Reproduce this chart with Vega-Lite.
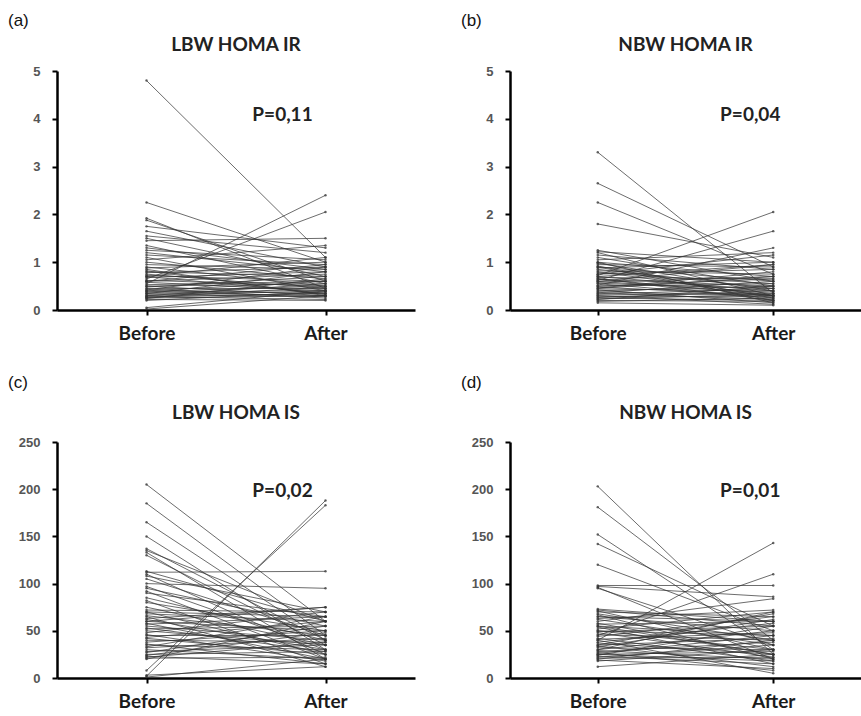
{
  "$schema": "https://vega.github.io/schema/vega-lite/v6.json",
  "padding": {"left": 8, "top": 12, "right": 0, "bottom": 0},
  "background": "white",
  "spacing": 31,
  "datasets": {
    "a": [
      {"id":1,"Before":4.8,"After":1.1},{"id":2,"Before":2.25,"After":1.0},{"id":3,"Before":1.92,"After":0.45},{"id":4,"Before":1.88,"After":0.6},
      {"id":5,"Before":1.75,"After":1.3},{"id":6,"Before":1.65,"After":0.9},{"id":7,"Before":1.55,"After":1.2},{"id":8,"Before":1.5,"After":0.7},
      {"id":9,"Before":1.45,"After":1.5},{"id":10,"Before":1.35,"After":0.55},{"id":11,"Before":1.25,"After":1.05},{"id":12,"Before":1.2,"After":0.8},
      {"id":13,"Before":1.15,"After":0.95},{"id":14,"Before":1.1,"After":0.4},{"id":15,"Before":1.05,"After":1.35},{"id":16,"Before":1.0,"After":0.65},
      {"id":17,"Before":0.95,"After":0.85},{"id":18,"Before":0.9,"After":0.5},{"id":19,"Before":0.88,"After":1.0},{"id":20,"Before":0.85,"After":0.3},
      {"id":21,"Before":0.8,"After":0.7},{"id":22,"Before":0.78,"After":0.9},{"id":23,"Before":0.75,"After":0.45},{"id":24,"Before":0.72,"After":0.6},
      {"id":25,"Before":0.7,"After":0.35},{"id":26,"Before":0.68,"After":0.8},{"id":27,"Before":0.65,"After":2.05},{"id":28,"Before":0.62,"After":0.5},
      {"id":29,"Before":0.6,"After":0.75},{"id":30,"Before":0.58,"After":0.4},{"id":31,"Before":0.55,"After":2.4},{"id":32,"Before":0.53,"After":0.6},
      {"id":33,"Before":0.5,"After":0.3},{"id":34,"Before":0.5,"After":0.55},{"id":35,"Before":0.48,"After":0.7},{"id":36,"Before":0.45,"After":0.45},
      {"id":37,"Before":0.44,"After":0.25},{"id":38,"Before":0.42,"After":0.9},{"id":39,"Before":0.4,"After":0.35},{"id":40,"Before":0.4,"After":0.6},
      {"id":41,"Before":0.38,"After":0.5},{"id":42,"Before":0.36,"After":0.3},{"id":43,"Before":0.35,"After":0.42},{"id":44,"Before":0.34,"After":0.8},
      {"id":45,"Before":0.32,"After":0.28},{"id":46,"Before":0.3,"After":0.4},{"id":47,"Before":0.3,"After":0.55},{"id":48,"Before":0.28,"After":0.22},
      {"id":49,"Before":0.27,"After":0.35},{"id":50,"Before":0.26,"After":0.48},{"id":51,"Before":0.25,"After":0.3},{"id":52,"Before":0.24,"After":0.65},
      {"id":53,"Before":0.22,"After":0.2},{"id":54,"Before":0.2,"After":0.38},{"id":55,"Before":0.05,"After":0.4},{"id":56,"Before":0.02,"After":0.3},
      {"id":57,"Before":0.7,"After":1.1},{"id":58,"Before":0.6,"After":0.95},{"id":59,"Before":0.82,"After":0.32},{"id":60,"Before":1.3,"After":0.85}
    ],
    "b": [
      {"id":1,"Before":3.3,"After":0.35},{"id":2,"Before":2.65,"After":0.9},{"id":3,"Before":2.25,"After":0.75},{"id":4,"Before":1.8,"After":1.1},
      {"id":5,"Before":1.25,"After":0.6},{"id":6,"Before":1.22,"After":1.0},{"id":7,"Before":1.2,"After":0.3},{"id":8,"Before":1.15,"After":0.85},
      {"id":9,"Before":1.1,"After":0.5},{"id":10,"Before":1.05,"After":1.2},{"id":11,"Before":1.0,"After":0.7},{"id":12,"Before":0.98,"After":0.4},
      {"id":13,"Before":0.95,"After":0.9},{"id":14,"Before":0.92,"After":0.25},{"id":15,"Before":0.9,"After":0.6},{"id":16,"Before":0.88,"After":1.0},
      {"id":17,"Before":0.85,"After":0.45},{"id":18,"Before":0.82,"After":0.75},{"id":19,"Before":0.8,"After":0.3},{"id":20,"Before":0.78,"After":0.55},
      {"id":21,"Before":0.75,"After":0.85},{"id":22,"Before":0.72,"After":2.05},{"id":23,"Before":0.7,"After":0.4},{"id":24,"Before":0.68,"After":0.65},
      {"id":25,"Before":0.66,"After":0.2},{"id":26,"Before":0.64,"After":0.5},{"id":27,"Before":0.62,"After":1.65},{"id":28,"Before":0.6,"After":0.35},
      {"id":29,"Before":0.58,"After":0.7},{"id":30,"Before":0.56,"After":0.45},{"id":31,"Before":0.55,"After":0.25},{"id":32,"Before":0.52,"After":1.3},
      {"id":33,"Before":0.5,"After":0.55},{"id":34,"Before":0.48,"After":0.3},{"id":35,"Before":0.46,"After":0.8},{"id":36,"Before":0.44,"After":0.4},
      {"id":37,"Before":0.42,"After":0.15},{"id":38,"Before":0.4,"After":0.5},{"id":39,"Before":0.38,"After":0.3},{"id":40,"Before":0.36,"After":0.6},
      {"id":41,"Before":0.35,"After":0.22},{"id":42,"Before":0.33,"After":0.45},{"id":43,"Before":0.31,"After":0.35},{"id":44,"Before":0.3,"After":0.12},
      {"id":45,"Before":0.28,"After":0.28},{"id":46,"Before":0.26,"After":0.4},{"id":47,"Before":0.25,"After":0.2},{"id":48,"Before":0.23,"After":0.33},
      {"id":49,"Before":0.22,"After":0.5},{"id":50,"Before":0.2,"After":0.18},{"id":51,"Before":0.18,"After":0.25},{"id":52,"Before":0.15,"After":0.1},
      {"id":53,"Before":0.6,"After":0.95},{"id":54,"Before":0.75,"After":1.15},{"id":55,"Before":0.9,"After":0.2},{"id":56,"Before":0.5,"After":0.65},
      {"id":57,"Before":0.65,"After":0.3},{"id":58,"Before":0.7,"After":0.95},{"id":59,"Before":1.0,"After":0.15},{"id":60,"Before":0.45,"After":0.7}
    ],
    "c": [
      {"id":1,"Before":205,"After":60},{"id":2,"Before":185,"After":45},{"id":3,"Before":165,"After":40},{"id":4,"Before":150,"After":30},
      {"id":5,"Before":137,"After":40},{"id":6,"Before":135,"After":60},{"id":7,"Before":133,"After":20},{"id":8,"Before":130,"After":35},
      {"id":9,"Before":112,"After":113},{"id":10,"Before":113,"After":60},{"id":11,"Before":110,"After":25},{"id":12,"Before":108,"After":70},
      {"id":13,"Before":105,"After":45},{"id":14,"Before":100,"After":95},{"id":15,"Before":97,"After":30},{"id":16,"Before":95,"After":55},
      {"id":17,"Before":92,"After":20},{"id":18,"Before":90,"After":65},{"id":19,"Before":85,"After":40},{"id":20,"Before":82,"After":15},
      {"id":21,"Before":80,"After":50},{"id":22,"Before":75,"After":35},{"id":23,"Before":72,"After":70},{"id":24,"Before":70,"After":25},
      {"id":25,"Before":68,"After":60},{"id":26,"Before":66,"After":45},{"id":27,"Before":65,"After":12},{"id":28,"Before":63,"After":75},
      {"id":29,"Before":62,"After":30},{"id":30,"Before":60,"After":50},{"id":31,"Before":58,"After":20},{"id":32,"Before":57,"After":65},
      {"id":33,"Before":55,"After":40},{"id":34,"Before":53,"After":28},{"id":35,"Before":52,"After":55},{"id":36,"Before":50,"After":35},
      {"id":37,"Before":48,"After":70},{"id":38,"Before":46,"After":18},{"id":39,"Before":45,"After":45},{"id":40,"Before":43,"After":60},
      {"id":41,"Before":42,"After":25},{"id":42,"Before":40,"After":38},{"id":43,"Before":38,"After":50},{"id":44,"Before":36,"After":15},
      {"id":45,"Before":35,"After":30},{"id":46,"Before":33,"After":65},{"id":47,"Before":32,"After":42},{"id":48,"Before":30,"After":20},
      {"id":49,"Before":28,"After":35},{"id":50,"Before":27,"After":55},{"id":51,"Before":25,"After":28},{"id":52,"Before":24,"After":48},
      {"id":53,"Before":23,"After":15},{"id":54,"Before":22,"After":38},{"id":55,"Before":21,"After":22},{"id":56,"Before":20,"After":60},
      {"id":57,"Before":2,"After":188},{"id":58,"Before":8,"After":183},{"id":59,"Before":3,"After":12},{"id":60,"Before":1,"After":20},
      {"id":61,"Before":60,"After":75},{"id":62,"Before":70,"After":65}
    ],
    "d": [
      {"id":1,"Before":203,"After":25},{"id":2,"Before":181,"After":40},{"id":3,"Before":152,"After":30},{"id":4,"Before":142,"After":55},
      {"id":5,"Before":120,"After":50},{"id":6,"Before":98,"After":98},{"id":7,"Before":97,"After":86},{"id":8,"Before":96,"After":20},
      {"id":9,"Before":95,"After":35},{"id":10,"Before":73,"After":60},{"id":11,"Before":72,"After":55},{"id":12,"Before":71,"After":30},
      {"id":13,"Before":70,"After":65},{"id":14,"Before":68,"After":40},{"id":15,"Before":67,"After":20},{"id":16,"Before":65,"After":50},
      {"id":17,"Before":63,"After":72},{"id":18,"Before":62,"After":35},{"id":19,"Before":60,"After":84},{"id":20,"Before":58,"After":25},
      {"id":21,"Before":57,"After":60},{"id":22,"Before":55,"After":45},{"id":23,"Before":54,"After":15},{"id":24,"Before":52,"After":70},
      {"id":25,"Before":50,"After":30},{"id":26,"Before":49,"After":55},{"id":27,"Before":48,"After":22},{"id":28,"Before":46,"After":40},
      {"id":29,"Before":45,"After":110},{"id":30,"Before":44,"After":65},{"id":31,"Before":42,"After":18},{"id":32,"Before":41,"After":48},
      {"id":33,"Before":40,"After":143},{"id":34,"Before":38,"After":58},{"id":35,"Before":37,"After":25},{"id":36,"Before":35,"After":42},
      {"id":37,"Before":34,"After":12},{"id":38,"Before":33,"After":62},{"id":39,"Before":32,"After":30},{"id":40,"Before":30,"After":50},
      {"id":41,"Before":29,"After":20},{"id":42,"Before":28,"After":38},{"id":43,"Before":27,"After":8},{"id":44,"Before":26,"After":45},
      {"id":45,"Before":25,"After":28},{"id":46,"Before":24,"After":55},{"id":47,"Before":23,"After":15},{"id":48,"Before":22,"After":35},
      {"id":49,"Before":21,"After":22},{"id":50,"Before":20,"After":40},{"id":51,"Before":19,"After":10},{"id":52,"Before":18,"After":30},
      {"id":53,"Before":12,"After":25},{"id":54,"Before":30,"After":70},{"id":55,"Before":55,"After":25},{"id":56,"Before":65,"After":60},
      {"id":57,"Before":40,"After":5},{"id":58,"Before":25,"After":18},{"id":59,"Before":35,"After":68},{"id":60,"Before":50,"After":45}
    ]
  },
  "vconcat": [
    {
      "hconcat": [
        {
          "title": {"text": "(a)", "anchor": "start", "font": "Liberation Sans", "fontSize": 17, "fontWeight": "normal", "color": "#111", "offset": 6},
          "vconcat": [
            {
              "width": 358, "height": 239,
              "title": {"text": "LBW HOMA IR", "font": "Lato", "fontSize": 19, "fontWeight": "bold", "color": "#222", "offset": 10},
              "layer": [
                {"data": {"name": "a"}, "transform": [{"fold": ["Before", "After"], "as": ["t", "v"]}],
                 "mark": {"type": "line", "color": "#333", "strokeWidth": 1, "opacity": 0.72},
                 "encoding": {"x": {"field": "t", "type": "ordinal", "scale": {"type": "point", "domain": ["Before", "After"], "padding": 0.5}, "axis": {"title": null}},
                              "y": {"field": "v", "type": "quantitative", "scale": {"domain": [0, 5], "nice": false}, "axis": {"title": null, "values": [0,1,2,3,4,5]}},
                              "detail": {"field": "id"}}},
                {"data": {"name": "a"}, "transform": [{"fold": ["Before", "After"], "as": ["t", "v"]}],
                 "mark": {"type": "point", "filled": true, "size": 6, "color": "#333", "opacity": 0.75},
                 "encoding": {"x": {"field": "t", "type": "ordinal"}, "y": {"field": "v", "type": "quantitative"}}},
                {"data": {"values": [{}]},
                 "mark": {"type": "text", "text": "P=0,11", "font": "Lato", "fontSize": 19, "fontWeight": "bold", "color": "#222", "dx": -43, "align": "center", "baseline": "middle"},
                 "encoding": {"x": {"datum": "After"}, "y": {"datum": 4.08}}}
              ]
            }
          ]
        },
        {
          "title": {"text": "(b)", "anchor": "start", "font": "Liberation Sans", "fontSize": 17, "fontWeight": "normal", "color": "#111", "offset": 6},
          "vconcat": [
            {
              "width": 351, "height": 239,
              "title": {"text": "NBW HOMA IR", "font": "Lato", "fontSize": 19, "fontWeight": "bold", "color": "#222", "offset": 10},
              "layer": [
                {"data": {"name": "b"}, "transform": [{"fold": ["Before", "After"], "as": ["t", "v"]}],
                 "mark": {"type": "line", "color": "#333", "strokeWidth": 1, "opacity": 0.72},
                 "encoding": {"x": {"field": "t", "type": "ordinal", "scale": {"type": "point", "domain": ["Before", "After"], "padding": 0.5}, "axis": {"title": null}},
                              "y": {"field": "v", "type": "quantitative", "scale": {"domain": [0, 5], "nice": false}, "axis": {"title": null, "values": [0,1,2,3,4,5]}},
                              "detail": {"field": "id"}}},
                {"data": {"name": "b"}, "transform": [{"fold": ["Before", "After"], "as": ["t", "v"]}],
                 "mark": {"type": "point", "filled": true, "size": 6, "color": "#333", "opacity": 0.75},
                 "encoding": {"x": {"field": "t", "type": "ordinal"}, "y": {"field": "v", "type": "quantitative"}}},
                {"data": {"values": [{}]},
                 "mark": {"type": "text", "text": "P=0,04", "font": "Lato", "fontSize": 19, "fontWeight": "bold", "color": "#222", "dx": -23, "align": "center", "baseline": "middle"},
                 "encoding": {"x": {"datum": "After"}, "y": {"datum": 4.08}}}
              ]
            }
          ]
        }
      ]
    },
    {
      "hconcat": [
        {
          "title": {"text": "(c)", "anchor": "start", "font": "Liberation Sans", "fontSize": 17, "fontWeight": "normal", "color": "#111", "offset": 12},
          "vconcat": [
            {
              "width": 358, "height": 236,
              "title": {"text": "LBW HOMA IS", "font": "Lato", "fontSize": 19, "fontWeight": "bold", "color": "#222", "offset": 13},
              "layer": [
                {"data": {"name": "c"}, "transform": [{"fold": ["Before", "After"], "as": ["t", "v"]}],
                 "mark": {"type": "line", "color": "#333", "strokeWidth": 1, "opacity": 0.72},
                 "encoding": {"x": {"field": "t", "type": "ordinal", "scale": {"type": "point", "domain": ["Before", "After"], "padding": 0.5}, "axis": {"title": null}},
                              "y": {"field": "v", "type": "quantitative", "scale": {"domain": [0, 250], "nice": false}, "axis": {"title": null, "values": [0,50,100,150,200,250]}},
                              "detail": {"field": "id"}}},
                {"data": {"name": "c"}, "transform": [{"fold": ["Before", "After"], "as": ["t", "v"]}],
                 "mark": {"type": "point", "filled": true, "size": 6, "color": "#333", "opacity": 0.75},
                 "encoding": {"x": {"field": "t", "type": "ordinal"}, "y": {"field": "v", "type": "quantitative"}}},
                {"data": {"values": [{}]},
                 "mark": {"type": "text", "text": "P=0,02", "font": "Lato", "fontSize": 19, "fontWeight": "bold", "color": "#222", "dx": -43, "align": "center", "baseline": "middle"},
                 "encoding": {"x": {"datum": "After"}, "y": {"datum": 198}}}
              ]
            }
          ]
        },
        {
          "title": {"text": "(d)", "anchor": "start", "font": "Liberation Sans", "fontSize": 17, "fontWeight": "normal", "color": "#111", "offset": 12},
          "vconcat": [
            {
              "width": 351, "height": 236,
              "title": {"text": "NBW HOMA IS", "font": "Lato", "fontSize": 19, "fontWeight": "bold", "color": "#222", "offset": 13},
              "layer": [
                {"data": {"name": "d"}, "transform": [{"fold": ["Before", "After"], "as": ["t", "v"]}],
                 "mark": {"type": "line", "color": "#333", "strokeWidth": 1, "opacity": 0.72},
                 "encoding": {"x": {"field": "t", "type": "ordinal", "scale": {"type": "point", "domain": ["Before", "After"], "padding": 0.5}, "axis": {"title": null}},
                              "y": {"field": "v", "type": "quantitative", "scale": {"domain": [0, 250], "nice": false}, "axis": {"title": null, "values": [0,50,100,150,200,250]}},
                              "detail": {"field": "id"}}},
                {"data": {"name": "d"}, "transform": [{"fold": ["Before", "After"], "as": ["t", "v"]}],
                 "mark": {"type": "point", "filled": true, "size": 6, "color": "#333", "opacity": 0.75},
                 "encoding": {"x": {"field": "t", "type": "ordinal"}, "y": {"field": "v", "type": "quantitative"}}},
                {"data": {"values": [{}]},
                 "mark": {"type": "text", "text": "P=0,01", "font": "Lato", "fontSize": 19, "fontWeight": "bold", "color": "#222", "dx": -23, "align": "center", "baseline": "middle"},
                 "encoding": {"x": {"datum": "After"}, "y": {"datum": 198}}}
              ]
            }
          ]
        }
      ]
    }
  ],
  "config": {
    "view": {"stroke": null},
    "concat": {"spacing": 46},
    "axis": {"domainColor": "#000", "domainWidth": 2.5, "tickColor": "#000", "tickWidth": 2, "tickSize": 5, "grid": false},
    "axisX": {"labelFont": "Lato", "labelFontSize": 19, "labelFontWeight": "bold", "labelAngle": 0, "labelPadding": 9, "labelColor": "#1a1a1a"},
    "axisY": {"labelFont": "Liberation Sans", "labelFontSize": 13, "labelFontWeight": "bold", "labelColor": "#555", "labelPadding": 12, "minExtent": 49, "maxExtent": 49}
  }
}
